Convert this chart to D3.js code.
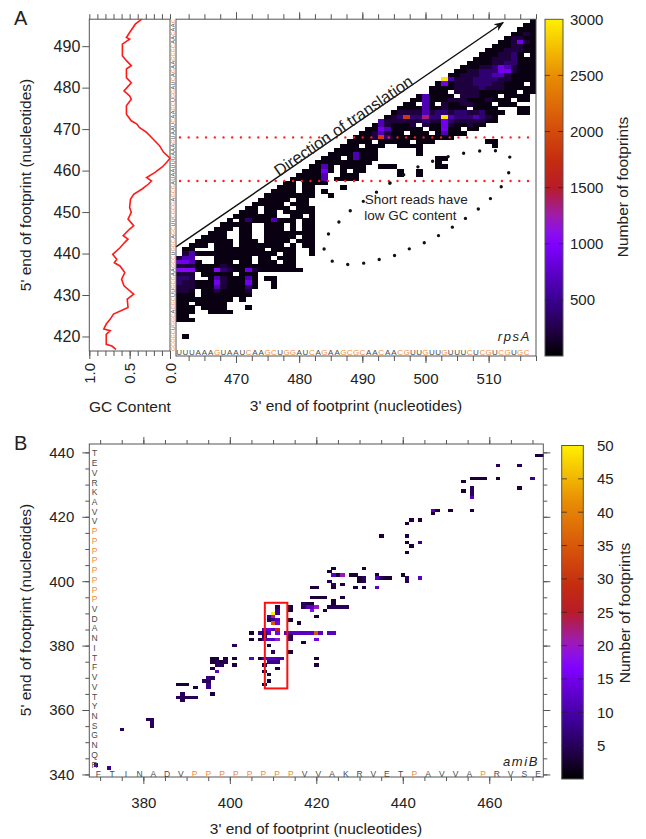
<!DOCTYPE html>
<html><head><meta charset="utf-8">
<script src="https://cdn.jsdelivr.net/npm/d3@7"></script>
<style>
body{margin:0;background:#fff;}
text{font-family:"Liberation Sans",Arial,sans-serif;fill:#222;}
.seq{opacity:0.999;}
</style></head>
<body><svg id="c" width="646" height="839"></svg>
<script>
// ================= DATA =================
// Panel A : rpsA  (rows: [5' end, first 3' end, codes])
const rpsARows = [
 [496,517,"1"],[495,516,"11"],[494,515,"111"],[493,514,"1121"],[492,513,"12211"],
 [491,512,"112521"],[490,511,"1112211"],[489,510,"11122211"],[488,509,"1112231.1"],
 [487,508,"1112223111"],[486,507,"11112233111"],[485,506,"111223542111"],
 [484,505,"1122333552111"],[483,504,"11222334421111"],[482,503,"942223333221111"],
 [481,502,"15122233322111.1"],[480,501,"11112222322211111"],[479,500,".111.2222111111.11"],
 [478,499,"141111.222111.1111"],[477,498,"1141112221112111.11"],[476,497,"11.41.21122111.111.."],
 [475,496,"11114112111.1111...11"],[474,495,"122224233233223111..11"],
 [473,494,"123833733943334321"],[472,493,"4222222322532222211"],[471,492,"1421112.2115211211"],
 [470,491,"115411111.11511.11"],[469,490,"1124211.111.14111"],[468,489,"1112831111111111"],
 [467,488,"1111.11111.111........11"],[466,487,"111.111..1111...........1"],
 [465,486,"1111111......1"],[464,485,"11114111......1"],[463,484,"111.14111.........11"],
 [462,483,"111111111..........1"],[461,482,"1141.1111..111......11"],[460,481,"11151.1.11.....1..1"],
 [459,480,"11114..111......1..1"],[458,479,"111114.1111"],[457,478,"11.1111"],
 [456,477,"111.11....1"],[455,476,"1111.11.1"],[454,475,"11111111..1"],[453,474,"11111.11."],
 [452,473,"11111.111."],[451,472,"11.1111.111"],[450,471,"111.11.11111"],[449,470,"1111111..11.1"],
 [448,469,"1.131114111.11"],[447,468,"11111..111.1.11"],[446,467,"111.11..111.1.11"],
 [445,466,"111..11..11111111"],[444,465,"1111..11..11111.11"],[443,464,"111111.111.1111.111"],
 [442,463,"111.111.1111111.1.11"],[441,462,"11...11111111.1111..1"],[440,461,".241111111111111.11..1"],
 [439,461,"244...111111.11.111"],[438,461,"5541..111.11.111.11"],[437,461,"2221111211111111111"],
 [436,461,"66611163211521111111"],[435,461,"222.11111.111"],[434,461,"332..14211141.11"],
 [433,461,"3221115211151..1"],[432,461,"2221114211131..1"],[431,461,"221.11211112"],
 [430,461,"111.11111111"],[429,461,"111111111.1"],[428,461,"11.11111"],[427,461,"111.1111...1"],
 [426,461,"111..1111"],[425,461,"11"],[424,461,"111"],[420,462,"1"]
];
const rpsACodeValue = {"1":60,"2":200,"3":380,"4":650,"5":900,"6":1050,"7":1350,"8":1850,"9":2950};
const rpsASeq = "UUUAAAGUAAUCAAGCUGGAUCAGAAGCGCAACAACGUUGUUGUUUCUCGUCGUGC"; // 3' axis from 461
const rpsALeftSeq = "GCGGCUGGCACGCUUGCGAAGCCUGGCAGCUUCGCGAGCGAUAA" + "UUUAAAGUAAUCAAGCUGGAUCAGAAGCGCAACAAC"; // 5' axis from 417
const gcPos = [496.5,495.3,493.3,492.1,491.7,490.5,487.7,486.5,485.3,484.5,482.4,481.2,479.2,478.0,477.2,475.6,473.6,472.0,471.2,470.4,469.2,467.6,466.0,464.4,463.0,462.0,460.8,459.5,458.3,457.5,456.7,455.5,454.3,453.1,451.1,449.9,448.3,446.7,445.9,444.3,443.5,442.7,441.4,439.8,438.6,437.8,437.0,435.4,433.8,432.2,430.2,429.0,427.0,425.4,424.2,423.0,421.8,421.4,420.5,418.1,417.7,416.9];
const gcVal = [0.35,0.43,0.50,0.54,0.50,0.59,0.59,0.54,0.48,0.54,0.54,0.48,0.57,0.50,0.48,0.54,0.54,0.48,0.41,0.38,0.29,0.21,0.13,0.08,0.00,0.04,0.10,0.19,0.29,0.23,0.27,0.35,0.45,0.49,0.50,0.48,0.52,0.45,0.50,0.58,0.52,0.56,0.62,0.71,0.66,0.69,0.62,0.56,0.60,0.57,0.45,0.53,0.52,0.70,0.74,0.79,0.82,0.74,0.79,0.79,0.72,0.67];
const gcMarks = [457.5, 468];
const loopX = [489.8,494.4,499.1,504.7,510.2,512.9,513.5,512.9,511.3,509.3,507.1,504.8,502.5,500.1,497.4,494.9,492.2,489.5,486.6,484.2,484.1,485.7,487.7];
const loopY = [452.2,457.0,461.1,463.8,464.9,463.9,462.2,458.2,454.8,451.9,449.3,446.9,444.7,442.8,441.1,439.4,438.4,437.5,437.5,439.2,443.3,446.6,449.8];
const aXTicks = [470,480,490,500,510];
const aYTicks = [420,430,440,450,460,470,480,490];
const gcTicks = [1.0,0.5,0.0];
const aBarTicks = [500,1000,1500,2000,2500,3000];

// Panel B : amiB  [3' end, 5' end, count]
const amiBCells = [
 [369,343,8],[372,342,8],[375,354,5],[381,357,5],[382,357,5],[382,355,5],[382,356,5],
 [388,368,3],[389,368,3],[390,368,3],[388,364,5],[389,364,5],[390,364,5],[391,364,5],[392,364,5],[389,365,5],[389,363,5],[392,367,3],
 [394,369,5],[395,369,5],[395,370,8],[395,368,8],[395,367,8],[396,370,5],[396,365,3],
 [396,376,3],[397,376,3],[399,376,3],[396,375,3],[397,375,5],[398,375,3],[399,375,5],[397,374,5],[398,374,5],[396,373,3],[397,372,12],
 [401,380,5],[401,376,3],[401,374,3],[405,384,3],[405,382,3],[405,376,12],[407,384,8],[407,382,3],[407,376,3],
 [410,390,50],[411,391,8],[411,390,8],[410,389,22],[409,389,8],[409,388,5],[410,388,8],[411,388,12],[410,387,35],[411,387,15],
 [408,385,12],[409,385,15],[410,385,12],[411,385,27],[408,384,5],[408,383,5],[409,384,12],[411,384,15],
 [408,382,10],[409,382,12],[410,382,12],[411,382,20],[409,380,3],[410,378,5],
 [408,376,10],[409,376,12],[410,376,12],[411,376,10],[412,376,10],
 [409,375,8],[410,375,8],[411,375,8],[408,374,3],[411,373,3],[408,372,3],[409,371,3],[409,369,3],[408,368,3],[411,392,5],
 [413,384,12],[414,384,12],[415,384,12],[416,384,12],[417,384,12],[418,384,12],[419,384,12],[420,384,35],[421,384,12],[423,384,12],[424,384,12],
 [414,378,3],[414,383,5],[414,382,5],[417,381,3],[414,392,3],[414,391,3],[414,388,3],[416,387,3],
 [418,393,3],[419,393,3],[418,392,12],[419,392,12],[420,392,20],[417,393,5],[417,392,5],[419,391,18],[420,389,3],[420,376,3],[420,374,3],[420,382,15],[422,391,3],[420,398,3],
 [419,395,3],[420,395,3],[421,395,3],[422,395,3],[419,398,3],
 [423,392,5],[424,392,5],[425,392,5],[426,392,5],[427,392,5],[424,394,3],[424,393,3],[426,395,3],
 [423,400,5],[424,399,5],[424,398,3],[426,399,3],
 [423,403,3],[424,402,12],[425,402,3],[426,402,20],[428,402,3],[429,402,3],[430,401,3],[431,401,5],[431,400,5],[430,400,3],
 [434,402,3],[434,401,12],[435,401,5],[436,401,3],[437,401,3],[440,402,3],[441,401,5],[441,400,5],[444,401,12],
 [429,398,3],[431,398,3],[434,398,12],[424,404,3],[431,404,3],
 [441,409,3],[441,412,3],[442,411,3],[444,412,8],[435,414,3],[441,414,3],
 [441,418,3],[442,419,3],[444,419,3],
 [447,422,12],[448,422,3],[447,421,3],[451,422,3],[456,422,3],
 [454,431,3],[454,428,3],[456,432,3],[457,432,3],[458,432,3],[459,432,3],[456,429,5],[456,428,5],[456,427,5],[456,426,12],[467,429,3],
 [462,436,5],[467,436,5],[462,432,3],[470,432,8],[471,439,3],[472,439,3]
];
const amiBLeftSeq = "TEVRKAVVPPPPPPPPVDANITFVVTYNSGNQR";   // 5' axis, top to bottom
const amiBBottomSeq = "FTINADVPPPPPPPPVVAKRVETPAVVAPRVSE"; // 3' axis, left to right
const bXTicks = [380,400,420,440,460];
const bYTicks = [340,360,380,400,420,440];
const bBarTicks = [5,10,15,20,25,30,35,40,45,50];
const bHighlight = {x0:408.1,x1:413.3,y0:366.7,y1:393.3};

// ================= DRAW =================
const svg = d3.select("#c");
const AX = "#555", ORANGE = "#f58a36", GREY = "#4a4a4a";
const palStops = [0,0.07,0.17,0.33,0.37,0.42,0.5,0.58,0.67,0.83,1];
const palCols  = ["#000000","#1e0040","#3c0094","#7f00ff","#8c10e8","#a01ca8","#b81c28","#c42c10","#d44c0c","#e88c04","#fff000"];
const colorA = d3.scaleLinear().domain(palStops.map(s=>s*3000)).range(palCols).clamp(true);
const colorB = d3.scaleLinear().domain(palStops.map(s=>s*50)).range(palCols).clamp(true);

const defs = svg.append("defs");
const grad = defs.append("linearGradient").attr("id","pal").attr("x1",0).attr("y1",1).attr("x2",0).attr("y2",0);
palStops.forEach((s,i)=>grad.append("stop").attr("offset",s).attr("stop-color",palCols[i]));
defs.append("marker").attr("id","arr").attr("viewBox","0 0 10 10").attr("refX",9).attr("refY",5)
  .attr("markerWidth",10).attr("markerHeight",10).attr("orient","auto").attr("markerUnits","userSpaceOnUse")
  .append("path").attr("d","M0,1 L10,5 L0,9 L3,5 Z").attr("fill","#111");

function axis(g, gen){ g.call(gen).call(s=>s.select(".domain").remove()).call(s=>s.selectAll("line").attr("stroke",AX)); return g; }

// ---------- Panel A ----------
const xA = d3.scaleLinear([460.5,517.5],[176,536]);
const yA = d3.scaleLinear([416.5,496.5],[351,19.2]);
const gcX = d3.scaleLinear([1,0],[89.3,170]);

svg.append("text").text("A").attr("x",14).attr("y",25).style("font-size","20px");

// heatmap cells
const cellsA = [];
rpsARows.forEach(([y,x0,codes])=>[...codes].forEach((ch,i)=>{ if(ch!==".") cellsA.push({x:x0+i,y:y,v:rpsACodeValue[ch]}); }));
svg.append("g").selectAll("rect").data(cellsA).join("rect")
  .attr("x",d=>xA(d.x-0.5)).attr("y",d=>yA(d.y+0.5))
  .attr("width",xA(1)-xA(0)+0.3).attr("height",yA(0)-yA(1)+0.3)
  .attr("fill",d=>colorA(d.v)).attr("shape-rendering","crispEdges");

// red dotted guide lines
svg.append("g").selectAll("line").data(gcMarks).join("line")
  .attr("x1",xA(460.5)+4).attr("x2",xA(517.5)).attr("y1",d=>yA(d)).attr("y2",d=>yA(d))
  .attr("stroke","#ff2020").attr("stroke-width",2.4).attr("stroke-linecap","round").attr("stroke-dasharray","0 8.7");

// arrow + label
const arrowStart=[460.5,441.6], arrowEnd=[512.3,495.7];
svg.append("line").attr("x1",xA(arrowStart[0])).attr("y1",yA(arrowStart[1])).attr("x2",xA(arrowEnd[0])).attr("y2",yA(arrowEnd[1]))
  .attr("stroke","#111").attr("stroke-width",1.4).attr("marker-end","url(#arr)");
const ang = Math.atan2(yA(arrowEnd[1])-yA(arrowStart[1]), xA(arrowEnd[0])-xA(arrowStart[0]))*180/Math.PI;
svg.append("text").text("Direction of translation").attr("text-anchor","middle")
  .attr("transform",`translate(${xA(487.0)},${yA(470.8)}) rotate(${ang})`).attr("dy","0.35em").style("font-size","16.5px");

// dotted loop annotation
const loopPts = loopX.map((x,i)=>[xA(x),yA(loopY[i])]);
svg.append("path").attr("d",d3.line().curve(d3.curveCardinalClosed.tension(0.2))(loopPts))
  .attr("fill","none").attr("stroke","#111").attr("stroke-width",3.4).attr("stroke-linecap","round").attr("stroke-dasharray","0 16");
svg.append("text").text("Short reads have").attr("x",xA(490.4)).attr("y",yA(451.9)).style("font-size","13.5px");
svg.append("text").text("low GC content").attr("x",xA(490.3)).attr("y",yA(448.0)).style("font-size","13.5px");
svg.append("text").text("rpsA").attr("x",531).attr("y",341).attr("text-anchor","end")
  .style("font-size","13px").style("font-style","italic").style("letter-spacing","1.6px");

// heatmap frame
svg.append("rect").attr("x",176).attr("y",19.2).attr("width",360).attr("height",356-19.2).attr("fill","none").attr("stroke",AX);

// bottom sequence
svg.append("g").attr("class","seq").selectAll("text").data([...rpsASeq]).join("text")
  .attr("x",(d,i)=>xA(461+i)).attr("y",355).attr("text-anchor","middle").text(d=>d)
  .style("font-size","8px").style("fill",d=>(d==="G"||d==="C")?ORANGE:GREY);
// left sequence (vertical)
svg.append("g").attr("class","seq").selectAll("text").data([...rpsALeftSeq]).join("text")
  .attr("transform",(d,i)=>`translate(175.3,${yA(417+i)}) rotate(-90)`).attr("text-anchor","middle").text(d=>d)
  .style("font-size","5.5px").style("fill",d=>(d==="G"||d==="C")?ORANGE:GREY);

// x axis A
const aMinor = d3.range(462.5,517.6,2.5);
axis(svg.append("g").attr("transform","translate(0,356)"), d3.axisBottom(xA).tickValues(aMinor).tickSize(5).tickFormat(""));
axis(svg.append("g").attr("transform","translate(0,356)"), d3.axisBottom(xA).tickValues(aXTicks).tickSize(7).tickPadding(10))
  .selectAll("text").style("font-size","15px").style("fill","#222");
axis(svg.append("g").attr("transform","translate(0,19.2)"), d3.axisTop(xA).tickValues(aMinor).tickSize(5).tickFormat(""));
axis(svg.append("g").attr("transform","translate(0,19.2)"), d3.axisTop(xA).tickValues(aXTicks).tickSize(7).tickFormat(""));
svg.append("text").text("3' end of footprint (nucleotides)").attr("x",356).attr("y",411).attr("text-anchor","middle").style("font-size","15.5px");

// GC panel
svg.append("rect").attr("x",89.3).attr("y",19.2).attr("width",170-89.3).attr("height",351-19.2).attr("fill","none").attr("stroke",AX);
svg.append("path").datum(gcPos.map((p,i)=>[gcVal[i],p]))
  .attr("d",d3.line().x(d=>gcX(d[0])).y(d=>yA(d[1])))
  .attr("fill","none").attr("stroke","#ff1a1a").attr("stroke-width",1.6);
const gcMinor = d3.range(0,1.0001,0.1);
axis(svg.append("g").attr("transform","translate(0,19.2)"), d3.axisTop(gcX).tickValues(gcMinor).tickSize(5).tickFormat(""));
axis(svg.append("g").attr("transform","translate(0,351)"), d3.axisBottom(gcX).tickValues(gcMinor).tickSize(5).tickFormat(""));
axis(svg.append("g").attr("transform","translate(0,351)"), d3.axisBottom(gcX).tickValues(gcTicks).tickSize(8).tickFormat(""));
svg.append("g").selectAll("text").data(gcTicks).join("text")
  .attr("transform",d=>`translate(${gcX(d)+5.5},363) rotate(-90)`).attr("text-anchor","end").text(d=>d.toFixed(1)).style("font-size","15px");
svg.append("text").text("GC Content").attr("x",130).attr("y",412).attr("text-anchor","middle").style("font-size","15.5px");

// y axis A
axis(svg.append("g").attr("transform","translate(89.3,0)"), d3.axisLeft(yA).tickValues(aYTicks).tickSize(7).tickPadding(2))
  .selectAll("text").style("font-size","16px").style("fill","#222");
svg.append("text").text("5' end of footprint (nucleotides)").attr("transform","translate(31,185) rotate(-90)")
  .attr("text-anchor","middle").style("font-size","15.5px");

// colorbar A
const cbA = d3.scaleLinear([0,3000],[356,19.3]);
svg.append("rect").attr("x",545).attr("y",19.3).attr("width",18).attr("height",356-19.3).attr("fill","url(#pal)").attr("stroke",AX);
const cbATickG = svg.append("g");
cbATickG.selectAll("line.l").data(aBarTicks.slice(0,-1)).join("line").attr("class","l")
  .attr("x1",545).attr("x2",550).attr("y1",d=>cbA(d)).attr("y2",d=>cbA(d)).attr("stroke","#222").attr("opacity",0.7);
cbATickG.selectAll("line.r").data(aBarTicks.slice(0,-1)).join("line").attr("class","r")
  .attr("x1",558).attr("x2",563).attr("y1",d=>cbA(d)).attr("y2",d=>cbA(d)).attr("stroke","#222").attr("opacity",0.7);
svg.append("g").selectAll("text").data(aBarTicks).join("text")
  .attr("x",570).attr("y",d=>cbA(d)).attr("dy","0.36em").text(d=>d).style("font-size","15px");
svg.append("text").text("Number of footprints").attr("transform","translate(628,187) rotate(-90)")
  .attr("text-anchor","middle").style("font-size","15.5px");

// ---------- Panel B ----------
const xB = d3.scaleLinear([367.5,472.5],[89.3,543.3]);
const yB = d3.scaleLinear([339.2,442.6],[777,444]);
svg.append("text").text("B").attr("x",14).attr("y",450).style("font-size","20px");

svg.append("g").selectAll("rect").data(amiBCells).join("rect")
  .attr("x",d=>xB(d[0]-0.5)).attr("y",d=>yB(d[1]+0.5))
  .attr("width",xB(1)-xB(0)+0.2).attr("height",yB(0)-yB(1)+0.2)
  .attr("fill",d=>colorB(d[2])).attr("shape-rendering","crispEdges");

svg.append("rect").attr("x",xB(bHighlight.x0)).attr("y",yB(bHighlight.y1))
  .attr("width",xB(bHighlight.x1)-xB(bHighlight.x0)).attr("height",yB(bHighlight.y0)-yB(bHighlight.y1))
  .attr("fill","none").attr("stroke","#ff1010").attr("stroke-width",2);

svg.append("rect").attr("x",89.3).attr("y",444).attr("width",543.3-89.3).attr("height",777-444).attr("fill","none").attr("stroke",AX);

const bXMinor = d3.range(370,472.5,5), bYMinor = d3.range(340,442.6,5);
axis(svg.append("g").attr("transform","translate(0,777)"), d3.axisBottom(xB).tickValues(bXMinor).tickSize(4).tickFormat(""));
axis(svg.append("g").attr("transform","translate(0,777)"), d3.axisBottom(xB).tickValues(bXTicks).tickSize(7).tickPadding(13))
  .selectAll("text").style("font-size","15px").style("fill","#222");
axis(svg.append("g").attr("transform","translate(0,444)"), d3.axisTop(xB).tickValues(bXMinor).tickSize(4).tickFormat(""));
axis(svg.append("g").attr("transform","translate(0,444)"), d3.axisTop(xB).tickValues(bXTicks).tickSize(7).tickFormat(""));
axis(svg.append("g").attr("transform","translate(89.3,0)"), d3.axisLeft(yB).tickValues(bYMinor).tickSize(4).tickFormat(""));
axis(svg.append("g").attr("transform","translate(89.3,0)"), d3.axisLeft(yB).tickValues(bYTicks).tickSize(7).tickPadding(8))
  .selectAll("text").style("font-size","15px").style("fill","#222");
axis(svg.append("g").attr("transform","translate(543.3,0)"), d3.axisRight(yB).tickValues(bYMinor).tickSize(4).tickFormat(""));
axis(svg.append("g").attr("transform","translate(543.3,0)"), d3.axisRight(yB).tickValues(bYTicks).tickSize(7).tickFormat(""));

svg.append("g").attr("class","seq").selectAll("text").data([...amiBLeftSeq]).join("text")
  .attr("x",94.5).attr("y",(d,i)=>yB(439.7-i*3.02)).attr("dy","0.36em").attr("text-anchor","middle").text(d=>d)
  .style("font-size","8.5px").style("fill",d=>d==="P"?ORANGE:GREY);
svg.append("g").attr("class","seq").selectAll("text").data([...amiBBottomSeq]).join("text")
  .attr("x",(d,i)=>xB(369.6+i*(471.3-369.6)/(amiBBottomSeq.length-1))).attr("y",776.5).attr("text-anchor","middle").text(d=>d)
  .style("font-size","8.5px").style("fill",d=>d==="P"?ORANGE:GREY);
svg.append("text").text("amiB").attr("x",539).attr("y",766).attr("text-anchor","end")
  .style("font-size","13px").style("font-style","italic").style("letter-spacing","1.6px");

svg.append("text").text("3' end of footprint (nucleotides)").attr("x",316).attr("y",834).attr("text-anchor","middle").style("font-size","15.5px");
svg.append("text").text("5' end of footprint (nucleotides)").attr("transform","translate(31,610) rotate(-90)")
  .attr("text-anchor","middle").style("font-size","15.5px");

// colorbar B
const cbB = d3.scaleLinear([0,50],[779,445.5]);
svg.append("rect").attr("x",561.7).attr("y",445.5).attr("width",21.6).attr("height",779-445.5).attr("fill","url(#pal)").attr("stroke",AX);
const cbBTickG = svg.append("g");
cbBTickG.selectAll("line.l").data(bBarTicks.slice(0,-1)).join("line").attr("class","l")
  .attr("x1",561.7).attr("x2",567).attr("y1",d=>cbB(d)).attr("y2",d=>cbB(d)).attr("stroke","#222").attr("opacity",0.7);
cbBTickG.selectAll("line.r").data(bBarTicks.slice(0,-1)).join("line").attr("class","r")
  .attr("x1",578).attr("x2",583.3).attr("y1",d=>cbB(d)).attr("y2",d=>cbB(d)).attr("stroke","#222").attr("opacity",0.7);
svg.append("g").selectAll("text").data(bBarTicks).join("text")
  .attr("x",597).attr("y",d=>cbB(d)).attr("dy","0.36em").text(d=>d).style("font-size","15px");
svg.append("text").text("Number of footprints").attr("transform","translate(630,613) rotate(-90)")
  .attr("text-anchor","middle").style("font-size","15.5px");
</script>
</body></html>
